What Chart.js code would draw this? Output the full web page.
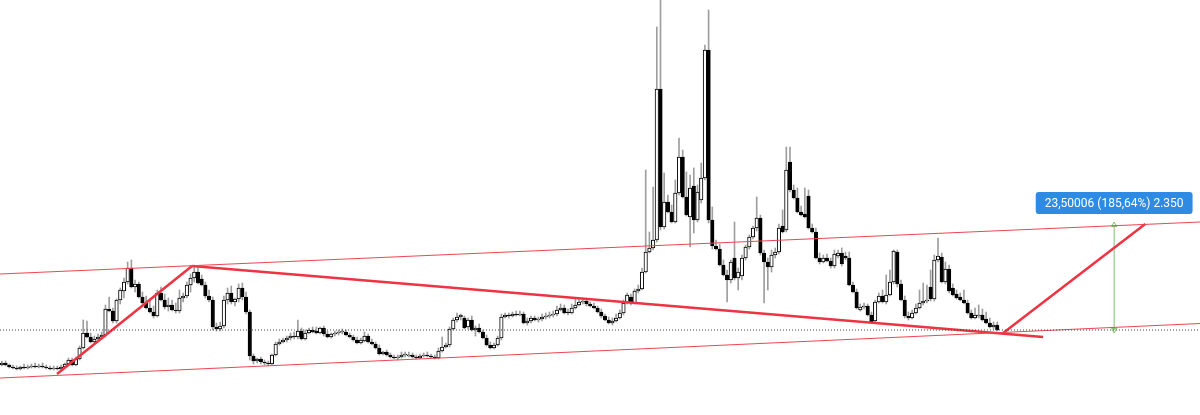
<!DOCTYPE html>
<html>
<head>
<meta charset="utf-8">
<script src="https://cdn.jsdelivr.net/npm/chart.js@4.4.1/dist/chart.umd.min.js"></script>
<style>
  html, body { margin: 0; background: #fff; }
  #wrap { width: 1200px; height: 415px; position: relative; }
</style>
</head>
<body>
<div id="wrap"><canvas id="chart"></canvas></div>
<script>
// ── Candle data (one entry per bar, oldest first) ─────────────────────────────
const opens = [
  50,52,50,48,47,46,48,47,48,49,  48,49,48,47,46,47,46,48,51,55,
  50,56,67,82,78,73,76,78,80,106, 104,94,115,124,133,147,128,131,118,112,
  107,103,99,122,115,108,110,105,104,117, 119,130,137,143,136,130,119,115,88,86,
  89,115,122,113,116,127,118,103,59,54, 56,53,52,51,60,71,73,75,77,79,
  78,84,76,82,85,84,82,87,81,78, 81,82,83,83,80,78,75,72,74,79,
  73,71,67,61,63,60,58,57,58,60, 59,60,58,57,59,60,59,58,57,64,
  68,70,86,95,98,97,88,95,85,87, 83,77,70,67,70,77,98,100,99,101,
  100,101,92,94,97,95,96,98,99,100, 101,105,107,103,102,107,110,113,114,111,
  109,107,103,99,95,92,94,97,102,112, 118,112,124,126,143,163,167,175,326,188,
  213,203,193,222,258,218,198,229,195,215, 237,365,195,169,166,150,140,135,157,137,
  139,157,168,178,187,197,162,153,148,160, 163,189,185,253,225,217,203,201,219,187,
  183,157,153,157,154,149,159,162,159,157, 130,123,105,108,109,100,94,113,119,113,
  120,133,163,131,115,99,97,102,107,112, 114,128,116,155,158,133,146,127,121,118,
  115,112,102,97,99,100,96,92,88,90
];
const highs = [
  54,54,51,50,49,49,51,50,51,52,  51,52,50,49,49,49,50,52,57,57,
  58,69,95,94,82,79,81,83,110,118, 107,116,127,137,153,155,135,133,123,119,
  115,109,125,128,121,117,115,112,125,122, 133,141,149,148,140,133,125,118,92,93,
  119,127,129,117,131,132,123,105,61,57, 58,55,54,61,73,76,77,79,82,83,
  95,87,85,87,88,88,88,89,84,82, 84,85,86,85,82,80,78,77,83,81,
  76,73,70,64,65,62,60,60,63,63, 63,62,60,61,62,63,61,60,67,78,
  72,88,97,102,101,99,97,99,89,91, 85,80,73,72,79,101,102,102,103,104,
  104,103,97,99,99,98,101,102,103,104, 109,111,110,106,111,116,117,117,116,113,
  112,109,106,101,98,97,101,105,115,122, 121,126,130,147,245,183,228,388,420,242,
  220,210,235,277,265,243,240,247,230,252, 370,405,208,175,171,155,145,155,193,147,
  160,170,180,189,218,200,165,157,165,167, 191,205,268,268,230,227,209,227,225,191,
  187,162,160,161,157,165,165,167,163,163, 133,126,111,112,111,103,115,122,125,140,
  145,165,165,135,119,103,105,111,125,132, 130,145,160,177,162,153,150,131,125,122,
  125,115,105,107,110,106,103,97,93,93
];
const lows = [
  49,49,47,46,45,45,46,46,47,47,  47,47,46,45,45,45,45,47,49,49,
  49,55,66,77,72,72,75,76,78,103, 92,92,111,117,131,127,123,117,111,106,
  102,97,98,114,106,104,104,102,102,113, 117,123,133,131,129,117,113,85,84,84,
  87,111,111,109,113,115,101,55,51,52, 51,50,49,50,59,70,72,73,75,76,
  76,75,75,81,82,81,81,79,77,77, 79,80,81,79,77,74,71,71,73,72,
  70,66,60,60,59,57,56,55,57,58, 58,57,56,56,58,58,57,56,56,63,
  67,68,85,93,95,86,86,84,79,82, 76,69,66,66,69,75,97,97,98,99,
  99,91,90,92,94,93,94,96,97,98, 99,104,101,100,101,106,109,111,109,108,
  106,102,97,94,91,90,93,96,100,111, 110,111,122,125,142,162,165,173,185,186,
  202,192,192,220,217,199,168,182,193,212, 235,192,166,165,149,139,113,132,135,125,
  135,155,166,176,184,160,112,125,143,157, 161,182,183,223,216,202,199,197,186,182,
  156,151,152,153,147,147,157,149,155,129, 122,106,104,106,99,92,93,112,112,111,
  119,131,128,114,97,95,96,101,106,110, 112,114,114,153,132,131,122,119,116,114,
  111,101,96,96,97,94,91,87,86,84
];
const closes = [
  52,50,48,47,46,48,47,48,49,48,  49,48,47,46,47,46,48,51,55,50,
  56,67,82,78,73,76,78,80,106,104, 94,115,125,133,147,128,131,118,112,107,
  103,99,122,115,108,110,105,104,117,119, 130,137,143,132,130,119,115,88,86,89,
  115,122,113,116,127,118,103,59,54,56, 53,52,51,60,71,73,75,77,79,78,
  84,76,82,85,83,82,87,81,78,81, 82,83,84,80,78,75,72,75,79,73,
  71,67,61,63,60,58,57,58,60,61, 60,58,57,59,60,59,58,57,64,68,
  70,86,95,98,100,87,95,85,87,83, 77,70,67,70,77,98,100,99,101,100,
  101,92,94,97,95,96,98,99,100,101, 105,107,102,102,107,110,113,114,111,109,
  107,103,99,95,92,94,97,102,112,120, 112,124,126,143,163,167,175,326,188,213,
  203,193,222,258,218,200,227,195,223,237, 365,195,169,166,150,140,135,153,137,143,
  157,168,178,187,197,162,153,148,160,163, 187,183,245,225,217,203,200,198,187,183,
  157,153,157,154,149,161,162,151,157,130, 123,107,108,109,100,93,113,119,113,120,
  133,164,131,115,99,97,102,107,112,114, 115,116,155,159,133,146,124,120,117,115,
  112,102,97,100,100,95,92,88,90,85
];

// ── Drawings (bar index, price) ───────────────────────────────────────────────
const upperChannel = [[0, 141], [324.3, 193]];
const lowerChannel = [[0, 37], [324.3, 91.5]];
const riseLine     = [[15.4, 41], [51.9, 149]];
const fallLine     = [[51.9, 149], [281.9, 78]];
const projLine     = [[271.1, 82], [309.5, 191]];
const lastLevel    = [[0, 85], [324.3, 85]];
const measureLine  = [[301.1, 85], [301.1, 190]];
const measureLabel = '23,50006 (185,64%) 2.350';

const X_MAX = 324.3;   // bars shown across the width (incl. empty right side)
const Y_MIN = 0, Y_MAX = 415;

// ── Build datasets ────────────────────────────────────────────────────────────
const bodies = closes.map((c, i) => ({ x: i + 0.5, y: [opens[i], c] }));
const wicks  = closes.map((c, i) => ({ x: i + 0.5, y: [lows[i], highs[i]] }));
const bodyFill = closes.map((c, i) => (c >= opens[i] ? '#ffffff' : '#000000'));

function segment(pts, color, width, dash) {
  return {
    type: 'line',
    data: pts.map(([x, y]) => ({ x, y })),
    borderColor: color,
    borderWidth: width,
    borderDash: dash || [],
    pointRadius: 0,
    fill: false,
    tension: 0,
    order: 0
  };
}

// price-range tag above the measure line
const measureTag = {
  id: 'measureTag',
  afterDatasetsDraw(chart) {
    const { ctx, scales: { x, y } } = chart;
    const cx = x.getPixelForValue(measureLine[1][0]);
    const top = y.getPixelForValue(measureLine[1][1]);
    ctx.save();
    ctx.font = '12px Roboto, "Open Sans", sans-serif';
    const w = ctx.measureText(measureLabel).width + 18;
    const h = 22;
    const bx = cx - w / 2, by = top - 11 - h;
    ctx.fillStyle = '#2d8be3';
    ctx.beginPath();
    ctx.roundRect(bx, by, w, h, 3);
    ctx.fill();
    ctx.fillStyle = '#ffffff';
    ctx.textAlign = 'center';
    ctx.textBaseline = 'middle';
    ctx.fillText(measureLabel, cx, by + h / 2 + 0.5);
    ctx.restore();
  }
};

const measureDs = segment(measureLine, '#7cc46a', 1);
measureDs.pointRadius = 3;
measureDs.pointStyle = 'triangle';
measureDs.rotation = [180, 0];
measureDs.pointBackgroundColor = 'rgba(0,0,0,0)';
measureDs.pointBorderColor = '#7cc46a';
measureDs.pointBorderWidth = 1;

new Chart(document.getElementById('chart'), {
  data: {
    datasets: [
      segment(lastLevel, '#444444', 1, [1, 2]),
      segment(upperChannel, '#ee4553', 1),
      segment(lowerChannel, '#ee4553', 1),
      segment(riseLine, '#ee3342', 2.5),
      segment(fallLine, '#ee3342', 2.5),
      segment(projLine, '#ee3342', 2.5),
      measureDs,
      {
        type: 'bar',
        data: bodies,
        backgroundColor: bodyFill,
        borderColor: '#000000',
        borderWidth: 1,
        borderSkipped: false,
        barThickness: 3.5,
        minBarLength: 1,
        grouped: false,
        order: 1
      },
      {
        type: 'bar',
        data: wicks,
        backgroundColor: '#9e9e9e',
        borderWidth: 0,
        barThickness: 1,
        grouped: false,
        order: 2
      }
    ]
  },
  options: {
    animation: false,
    responsive: true,
    maintainAspectRatio: false,
    layout: { padding: 0, autoPadding: false },
    plugins: { legend: { display: false }, tooltip: { enabled: false } },
    scales: {
      x: { type: 'linear', min: 0, max: X_MAX, display: false, offset: false },
      y: { type: 'linear', min: Y_MIN, max: Y_MAX, display: false }
    }
  },
  plugins: [measureTag]
});
</script>
</body>
</html>
